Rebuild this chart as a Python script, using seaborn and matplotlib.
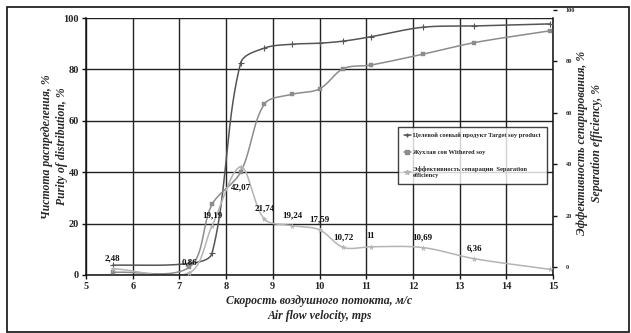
import matplotlib
matplotlib.use('Agg')
import matplotlib.pyplot as plt
import seaborn as sns
import pandas as pd
import numpy as np
from matplotlib.patches import Rectangle

# air flow velocity, m/s
velocity = [5.57, 7.21, 7.70, 8.31, 8.82, 9.41, 10.0, 10.51, 11.10, 12.21, 13.31, 14.93]
# purity of target soy product, %
target = [3.8, 4.5, 8.5, 82.4, 88.3, 89.8, 90.2, 91.0, 92.7, 96.4, 96.9, 97.7]
# purity of withered soy, %
withered = [1.0, 3.0, 27.5, 40.0, 66.5, 70.3, 72.4, 80.3, 81.7, 85.9, 90.4, 95.0]
# separation efficiency, %
efficiency = [2.48, 0.86, 19.19, 42.07, 21.74, 19.24, 17.59, 10.72, 11.0, 10.69, 6.36, 2.2]
eff_labels = ['2,48', '0,86', '19,19', '42,07', '21,74', '19,24', '17,59', '10,72', '11', '10,69', '6,36', '']

names = ['Целевой соевый продукт Target soy product',
         'Жухлая соя Withered soy',
         'Эффективность сепарации  Separation\nefficiency']
colors = ['#555555', '#8c8c8c', '#b4b4b4']
markers = ['+', 's', '*']


def smooth(xs, ys, n=40):
    # smoothed line, tangents scaled by chord length on screen
    sc = np.array([46.7, 2.57])
    p = np.column_stack([xs, ys]).astype(float) * sc
    p = np.vstack([p[0], p, p[-1]])
    d = np.linalg.norm(np.diff(p, axis=0), axis=1)
    out = []
    t = np.linspace(0, 1, n)[:, None]
    for i in range(1, len(p) - 2):
        b0, b3 = p[i], p[i + 1]
        dl, dc, dr = d[i - 1], d[i], d[i + 1]
        b1 = b0 + (p[i + 1] - p[i - 1]) * dc / max(dl + dc, 1e-9) / 3
        b2 = b3 - (p[i + 2] - p[i]) * dc / max(dc + dr, 1e-9) / 3
        seg = (1 - t) ** 3 * b0 + 3 * (1 - t) ** 2 * t * b1 + 3 * (1 - t) * t ** 2 * b2 + t ** 3 * b3
        out.append(seg if i == 1 else seg[1:])
    out = np.vstack(out) / sc
    return out[:, 0], out[:, 1]


sns.set_theme(style='white')
plt.rcParams['font.family'] = ['Liberation Serif', 'DejaVu Serif']

fig = plt.figure(figsize=(6.31, 3.33), dpi=100)
ax = fig.add_axes([86 / 631, 1 - 275 / 333, 467 / 631, 257 / 333])

for ys, name, c, m in zip([target, withered, efficiency], names, colors, markers):
    sx, sy = smooth(velocity, ys)
    curve = pd.DataFrame({'x': sx, 'y': sy})
    sns.lineplot(data=curve, x='x', y='y', sort=False, estimator=None, color=c, lw=1.1, ax=ax)
    pts = pd.DataFrame({'x': velocity, 'y': ys})
    sns.scatterplot(data=pts, x='x', y='y', marker=m, color=c, s=14 if m != 's' else 10,
                    linewidth=0.8 if m == '+' else 0.3, edgecolor=c, ax=ax, zorder=3)
    ax.plot([], [], color=c, marker=m, ms=3.5, lw=1.1, label=name)

for x, y, lab in zip(velocity, efficiency, eff_labels):
    if not lab:
        continue
    dy = -18 if lab == '42,07' else 4.5
    ax.annotate(lab, (x, y), xytext=(0, dy), textcoords='offset points', ha='center',
                va='bottom', fontsize=6.5, fontweight='bold', color='#111')

ax.set_xlim(5, 15)
ax.set_ylim(0, 100)
ax.set_xticks(range(5, 16))
ax.set_yticks(range(0, 101, 20))
ax.grid(True, color='#222', lw=1.0)
ax.tick_params(axis='both', labelsize=7.5, length=3, width=1, color='#111', direction='out',
               left=True, bottom=True, pad=2)
for lab in ax.get_xticklabels() + ax.get_yticklabels():
    lab.set_fontweight('bold')
for s in ax.spines.values():
    s.set_color('#111')
    s.set_linewidth(1.1)
ax.spines['top'].set_visible(False)

ax.set_xlabel('Скорость воздушного потокта, м/с\nAir flow velocity, mps', fontsize=8.5,
              fontweight='bold', style='italic', labelpad=3, linespacing=1.3)
ax.set_ylabel('Чистота распределения, %\nPurity of distribution, %', fontsize=8.5,
              fontweight='bold', style='italic', labelpad=-3, linespacing=1.3)

leg = ax.legend(loc='upper left', bbox_to_anchor=(312 / 467, 1 - 109 / 257), frameon=True,
                prop={'weight': 'bold', 'size': 4.7}, handlelength=1.1,
                labelspacing=1.7, borderpad=0.9, fancybox=False, handletextpad=0.3,
                borderaxespad=0)
leg.get_frame().set_edgecolor('#111')
leg.get_frame().set_linewidth(1.0)
leg.get_frame().set_facecolor('white')

# right-hand axis
ax2 = fig.add_axes([86 / 631, 1 - 275 / 333, 467 / 631, 265 / 333], frameon=False)
ax2.set_ylim(-3.1, 100)
ax2.set_xticks([])
ax2.yaxis.tick_right()
ax2.yaxis.set_label_position('right')
ax2.set_yticks(range(0, 101, 20))
ax2.tick_params(axis='y', labelsize=4.5, length=3, width=1, color='#111', pad=6)
for lab in ax2.get_yticklabels():
    lab.set_fontweight('bold')
ax2.set_ylabel('Эффективность сепарирования, %\nSeparation efficiency, %', fontsize=8.5,
               fontweight='bold', style='italic', labelpad=1, linespacing=1.3, rotation=90)
ax2.patch.set_visible(False)

fig.patches.append(Rectangle((7 / 631, 1 / 333), 622 / 631, 325 / 333, transform=fig.transFigure,
                             fill=False, edgecolor='#111', lw=1.2))

fig.savefig('out.png', dpi=100, facecolor='white')
